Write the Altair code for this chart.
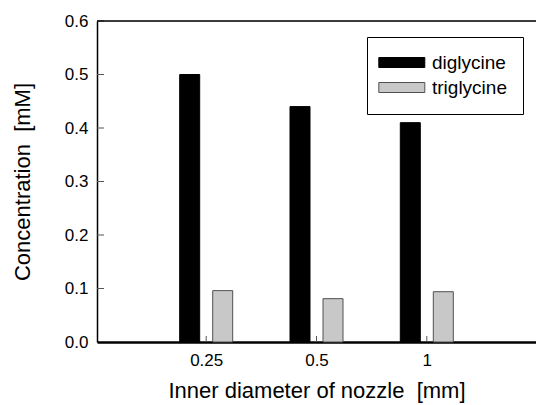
import altair as alt
import pandas as pd

diameters = ["0.25", "0.5", "1"]
series = ["diglycine", "triglycine"]
diglycine = [0.50, 0.44, 0.41]
triglycine = [0.096, 0.081, 0.094]
y_ticks = [0.0, 0.1, 0.2, 0.3, 0.4, 0.5, 0.6]

rows = []
for d, v in zip(diameters, diglycine):
    rows.append({"diameter": d, "series": "diglycine", "value": v})
for d, v in zip(diameters, triglycine):
    rows.append({"diameter": d, "series": "triglycine", "value": v})
df = pd.DataFrame(rows)

W, H = 439, 321
FONT = "Liberation Sans"
NB = "\u00a0"

xscale = alt.Scale(type="point", domain=diameters, padding=0.99)
yscale = alt.Scale(domain=[0, 0.6], nice=False, zero=True)

bars = alt.Chart(df).mark_bar(
    size=20,
    strokeWidth=1,
    xOffset=alt.expr("datum.series == 'diglycine' ? -16.5 : 16.5"),
).encode(
    x=alt.X("diameter:O", scale=xscale, sort=diameters,
            axis=alt.Axis(title="Inner diameter of nozzle" + NB + " [mm]", labelAngle=0,
                          ticks=False, domainWidth=2.5, domainColor="black",
                          labelFontSize=17, labelPadding=10, titleFontSize=22,
                          titlePadding=12, titleFontWeight="normal")),
    y=alt.Y("value:Q", scale=yscale, stack=None,
            axis=alt.Axis(title="Concentration" + NB + " [mM]", values=y_ticks, format=".1f",
                          ticks=False, grid=False, domainWidth=1.5, domainColor="black",
                          labelFontSize=17, labelPadding=9, titleFontSize=22,
                          titlePadding=30, titleFontWeight="normal")),
    color=alt.Color("series:N", scale=alt.Scale(domain=series, range=["#000000", "#c8c8c8"]),
                    legend=alt.Legend(title=None, orient="none", legendX=270, legendY=16,
                                      strokeColor="black", fillColor="white", padding=16,
                                      labelFontSize=19, labelFont=FONT,
                                      symbolType="M-2.74,-1H6.46V1H-2.74Z", symbolSize=100,
                                      symbolStrokeWidth=1, rowPadding=5, labelOffset=30)),
    stroke=alt.Stroke("series:N", scale=alt.Scale(domain=series, range=["#000000", "#505050"]),
                      legend=None),
)

yt = alt.Chart(pd.DataFrame({"t": y_ticks[1:]})).mark_rule(color="#555", strokeWidth=1).encode(
    y=alt.Y("t:Q", scale=yscale), x=alt.value(0), x2=alt.value(7)
)
xt = alt.Chart(pd.DataFrame({"d": diameters})).mark_rule(color="#555", strokeWidth=1).encode(
    x=alt.X("d:O", scale=xscale, sort=diameters), y=alt.value(H), y2=alt.value(H - 6)
)
top = alt.Chart(pd.DataFrame({"a": [0]})).mark_rule(color="black", strokeWidth=1.5).encode(
    y=alt.value(0), x=alt.value(0), x2=alt.value(W)
)

chart = alt.layer(bars, yt, xt, top).properties(
    width=W, height=H,
    autosize=alt.AutoSizeParams(type="none"),
    padding={"left": 97, "top": 21, "right": 0, "bottom": 63},
).configure_view(stroke=None).configure(font=FONT).configure_axis(
    labelColor="black", titleColor="black", labelFont=FONT, titleFont=FONT
).configure_legend(labelColor="black")

chart.save("out.html", embed_options={"renderer": "svg", "actions": False})
